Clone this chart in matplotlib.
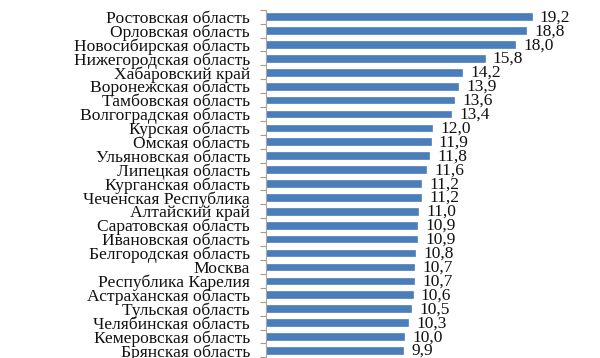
import matplotlib
matplotlib.use("Agg")
import matplotlib.pyplot as plt
import numpy as np

regions = ["Ростовская область", "Орловская область", "Новосибирская область",
           "Нижегородская область", "Хабаровский край", "Воронежская область",
           "Тамбовская область", "Волгоградская область", "Курская область",
           "Омская область", "Ульяновская область", "Липецкая область",
           "Курганская область", "Чеченская Республика", "Алтайский край",
           "Саратовская область", "Ивановская область", "Белгородская область",
           "Москва", "Республика Карелия", "Астраханская область",
           "Тульская область", "Челябинская область", "Кемеровская область",
           "Брянская область"]
values = [19.2, 18.8, 18.0, 15.8, 14.2, 13.9, 13.6, 13.4, 12.0, 11.9, 11.8, 11.6,
          11.2, 11.2, 11.0, 10.9, 10.9, 10.8, 10.7, 10.7, 10.6, 10.5, 10.3, 10.0, 9.9]

plt.rcParams['font.family'] = ['Liberation Serif', 'DejaVu Serif']

fig = plt.figure(figsize=(6, 3.58), dpi=100)
top = 1 - 9.75 / 358
ax = fig.add_axes([266 / 600, 0.0, 332 / 600, top])

y = np.arange(len(values))
ax.barh(y, values, height=0.48, color='#4a7ebb', edgecolor='#3d6ea8', linewidth=0.4)
ax.set_xlim(0, 24)
ax.set_ylim(24.55, -0.5)

for yi, v in zip(y, values):
    ax.text(v + 0.6, yi + 0.05, f"{v:.1f}".replace('.', ','), va='center', ha='left',
            fontsize=12.5, color='#111111')

ax.set_yticks(y)
ax.set_yticklabels(regions, fontsize=12.6, color='#111111')
ax.tick_params(axis='y', which='major', length=0, pad=11.5)
ax.set_yticks(np.arange(-0.5, len(values), 1.0), minor=True)
ax.tick_params(axis='y', which='minor', length=4, color='#b59a70', width=0.8)
ax.set_xticks([])
for s in ['top', 'right', 'bottom']:
    ax.spines[s].set_visible(False)
ax.spines['left'].set_color('#a8a8a8')
ax.spines['left'].set_linewidth(0.8)

fig.savefig("out.png", dpi=100)
